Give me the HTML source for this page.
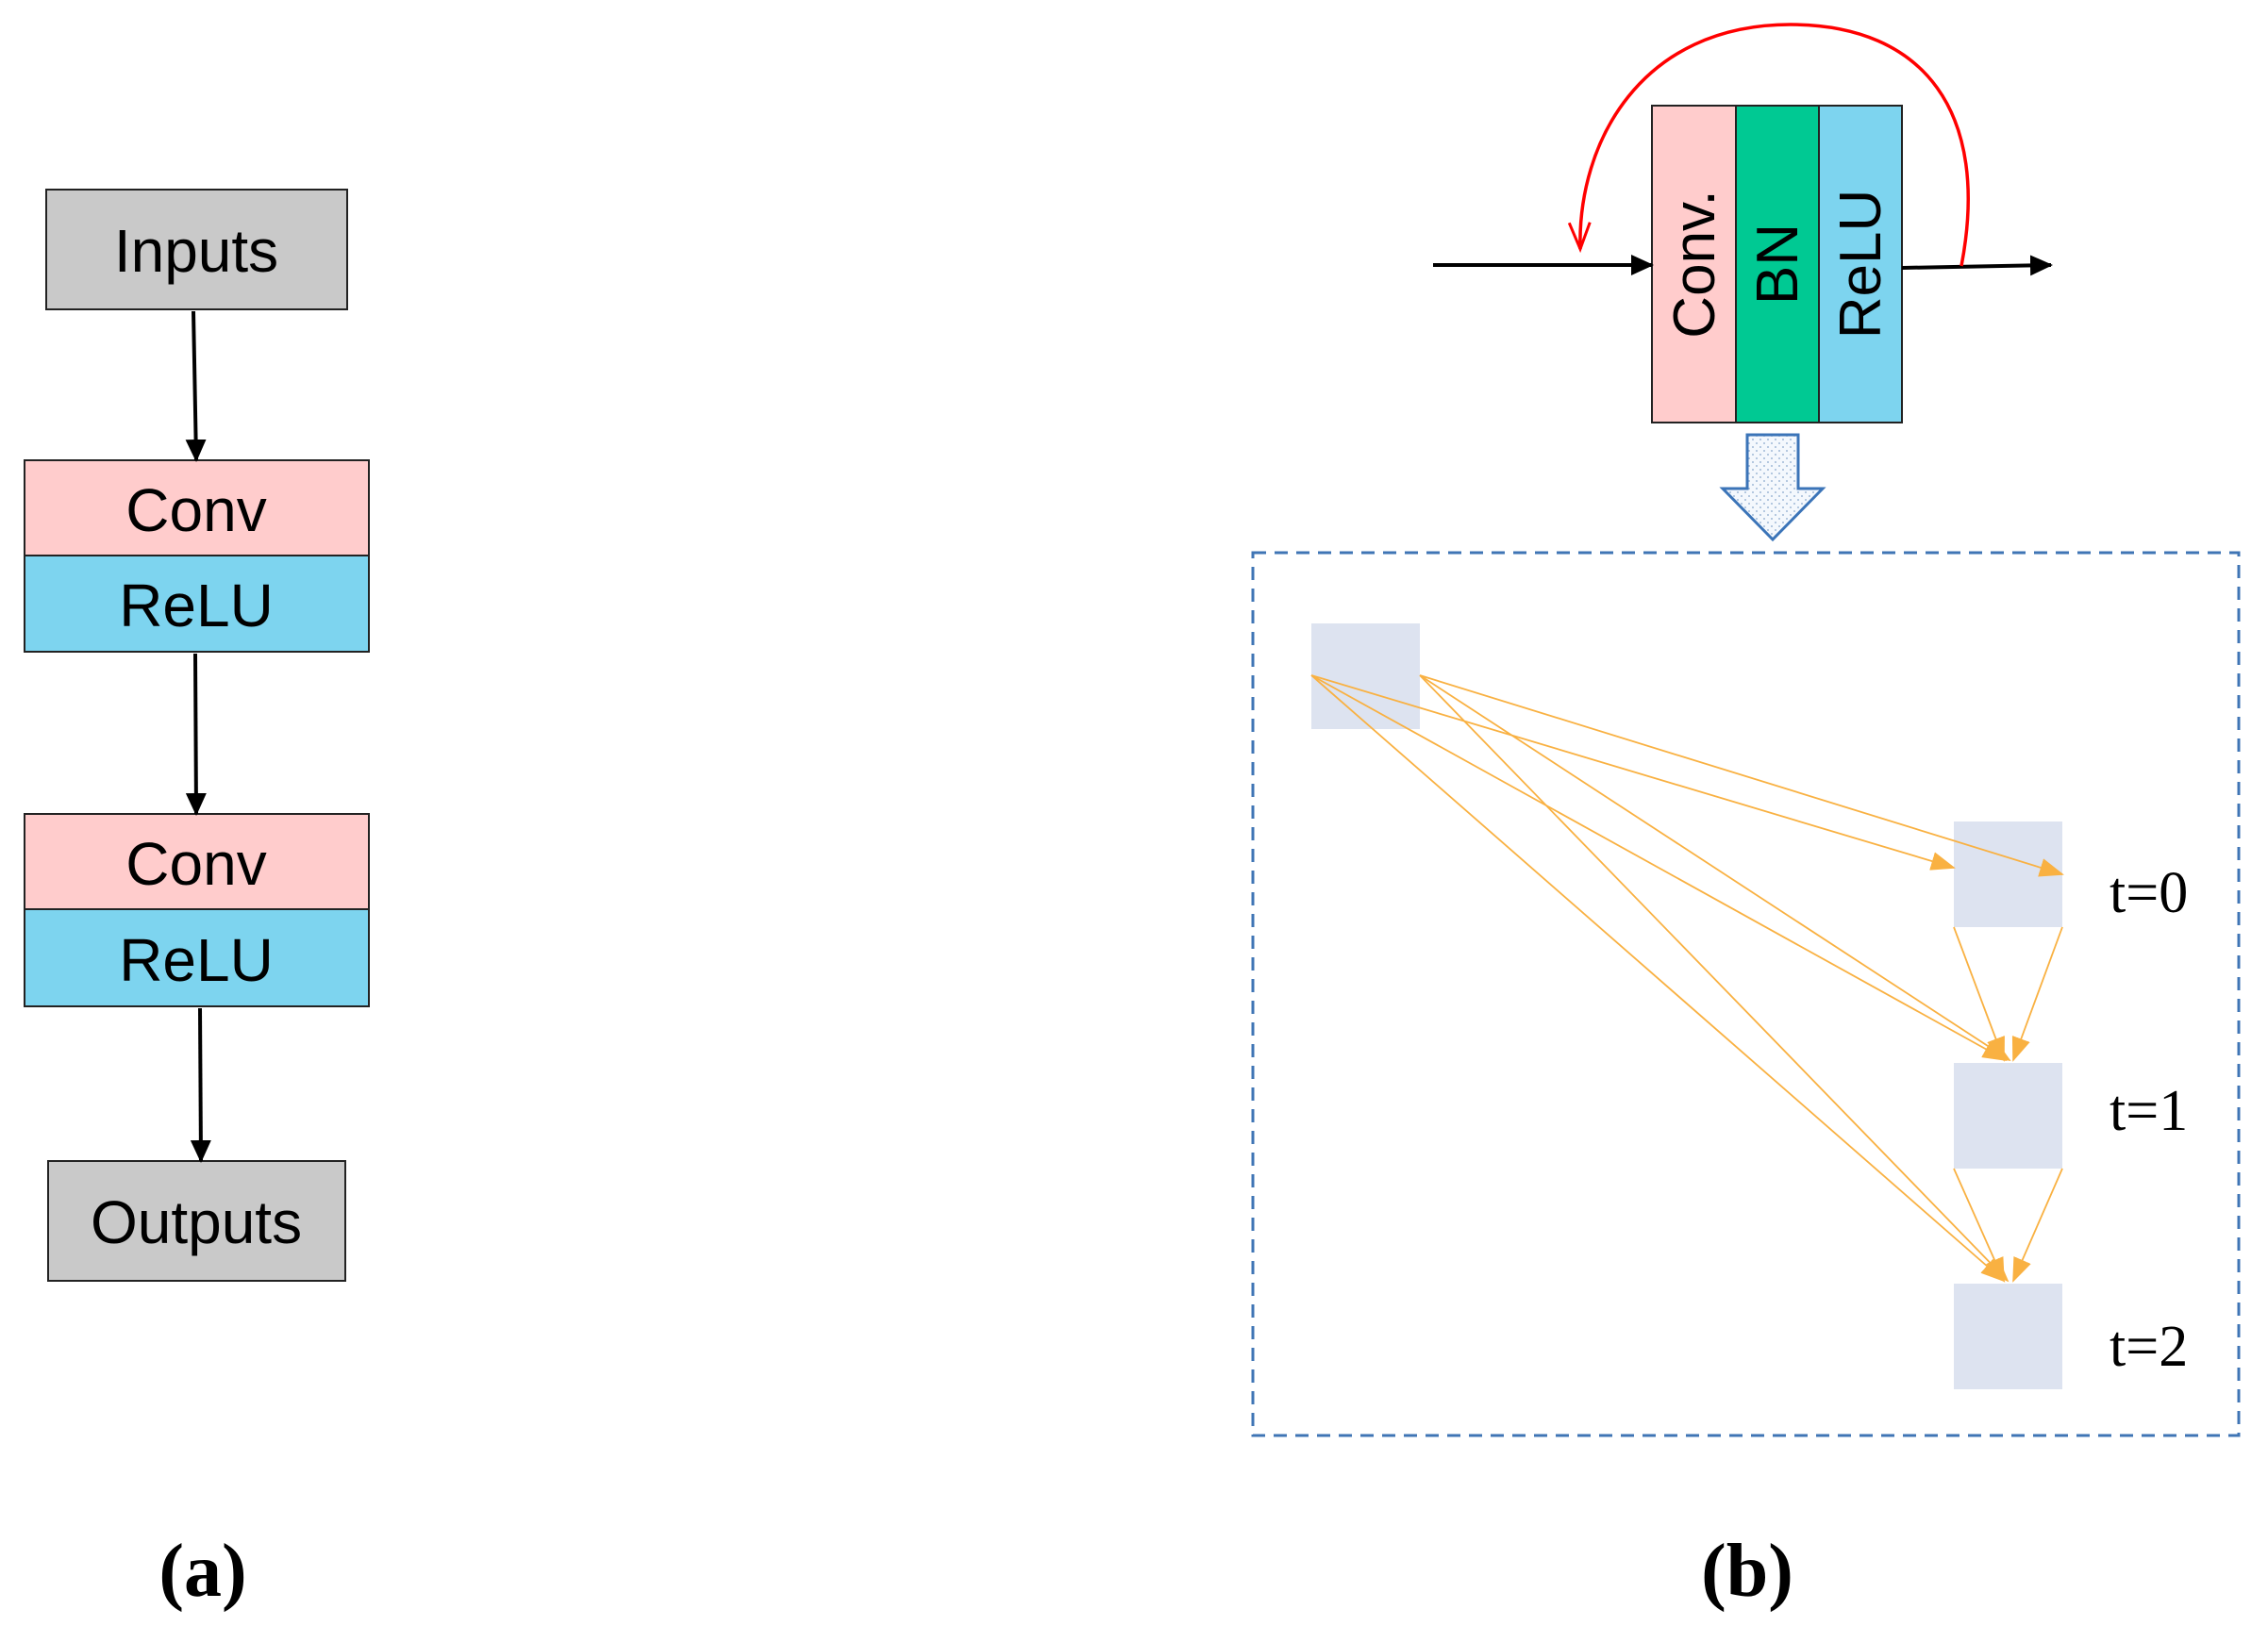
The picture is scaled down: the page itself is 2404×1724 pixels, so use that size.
<!DOCTYPE html>
<html><head><meta charset="utf-8"><style>
html,body{margin:0;padding:0;background:#fff;}
svg{display:block;}
</style></head><body>
<svg width="2404" height="1724" viewBox="0 0 2404 1724" xmlns="http://www.w3.org/2000/svg">
<defs>
<marker id="ab" markerWidth="24" markerHeight="22" refX="22" refY="11" orient="auto" markerUnits="userSpaceOnUse"><path d="M0,0 L24,11 L0,22 z" fill="#000"/></marker>
<marker id="ao" markerWidth="26" markerHeight="20" refX="24" refY="10" orient="auto" markerUnits="userSpaceOnUse"><path d="M0,0 L26,10 L0,20 z" fill="#f9b142"/></marker>
<marker id="ar" markerWidth="34" markerHeight="26" refX="30" refY="13" orient="auto" markerUnits="userSpaceOnUse"><path d="M2,2 L30,13 L2,24" fill="none" stroke="#f00" stroke-width="3"/></marker>
<pattern id="dots" width="8" height="8" patternUnits="userSpaceOnUse"><rect width="8" height="8" fill="#f4f8fd"/><circle cx="2" cy="2" r="1" fill="#9fb8d8"/><circle cx="6" cy="6" r="1" fill="#9fb8d8"/></pattern>
</defs>
<g font-family="Liberation Sans, sans-serif" font-size="64" text-anchor="middle">
<rect x="49" y="201" width="319" height="127" fill="#c9c9c9" stroke="#222" stroke-width="2"/>
<text x="208" y="288">Inputs</text>
<rect x="26" y="488" width="365" height="101" fill="#ffcccc" stroke="#222" stroke-width="2"/>
<rect x="26" y="589" width="365" height="102" fill="#7dd4ef" stroke="#222" stroke-width="2"/>
<text x="208" y="563">Conv</text><text x="208" y="664">ReLU</text>
<rect x="26" y="863" width="365" height="101" fill="#ffcccc" stroke="#222" stroke-width="2"/>
<rect x="26" y="964" width="365" height="103" fill="#7dd4ef" stroke="#222" stroke-width="2"/>
<text x="208" y="938">Conv</text><text x="208" y="1040">ReLU</text>
<rect x="51" y="1231" width="315" height="127" fill="#c9c9c9" stroke="#222" stroke-width="2"/>
<text x="208" y="1318">Outputs</text>
</g>
<g stroke="#000" stroke-width="4" marker-end="url(#ab)">
<line x1="205" y1="330" x2="208" y2="488"/>
<line x1="207" y1="693" x2="208" y2="863"/>
<line x1="212" y1="1069" x2="213" y2="1231"/>
</g>
<g font-family="Liberation Serif, serif" font-size="80" font-weight="bold" text-anchor="middle">
<text x="215" y="1692">(a)</text><text x="1852" y="1692">(b)</text>
</g>
<rect x="1751" y="112" width="89" height="336" fill="#ffcccc" stroke="#222" stroke-width="2"/>
<rect x="1840" y="112" width="88" height="336" fill="#00c993" stroke="#222" stroke-width="2"/>
<rect x="1928" y="112" width="88" height="336" fill="#7dd4ef" stroke="#222" stroke-width="2"/>
<g font-family="Liberation Sans, sans-serif" font-size="62" text-anchor="middle">
<text transform="translate(1817,280) rotate(-90)">Conv.</text>
<text transform="translate(1905,280) rotate(-90)">BN</text>
<text transform="translate(1993,280) rotate(-90)">ReLU</text>
</g>
<g stroke="#000" stroke-width="4" marker-end="url(#ab)">
<line x1="1519" y1="281" x2="1751" y2="281"/>
<line x1="2016" y1="284" x2="2174" y2="281"/>
</g>
<path d="M2079,282 C2110,120 2040,26 1898,26 C1740,26 1672,150 1675,264" fill="none" stroke="#f00" stroke-width="3.5" marker-end="url(#ar)"/>
<path d="M1852,461 L1906,461 L1906,518 L1932,518 L1879,572 L1826,518 L1852,518 Z" fill="url(#dots)" stroke="#3b74b8" stroke-width="3"/>
<rect x="1328" y="586" width="1045" height="936" fill="none" stroke="#3f75b5" stroke-width="3" stroke-dasharray="14,9"/>
<g fill="#dde3f0">
<rect x="1390" y="661" width="115" height="112"/>
<rect x="2071" y="871" width="115" height="112"/>
<rect x="2071" y="1127" width="115" height="112"/>
<rect x="2071" y="1361" width="115" height="112"/>
</g>
<g stroke="#f9b142" stroke-width="1.8" marker-end="url(#ao)">
<line x1="1390" y1="716" x2="2071" y2="920"/>
<line x1="1505" y1="716" x2="2186" y2="927"/>
<line x1="1390" y1="716" x2="2126" y2="1124"/>
<line x1="1505" y1="716" x2="2130" y2="1124"/>
<line x1="1390" y1="716" x2="2124" y2="1358"/>
<line x1="1505" y1="716" x2="2128" y2="1358"/>
<line x1="2071" y1="983" x2="2124" y2="1124"/>
<line x1="2186" y1="983" x2="2134" y2="1124"/>
<line x1="2071" y1="1239" x2="2124" y2="1358"/>
<line x1="2186" y1="1239" x2="2134" y2="1358"/>
</g>
<g font-family="Liberation Serif, serif" font-size="62">
<text x="2236" y="967">t=0</text>
<text x="2236" y="1198">t=1</text>
<text x="2236" y="1448">t=2</text>
</g>
</svg>
</body></html>
